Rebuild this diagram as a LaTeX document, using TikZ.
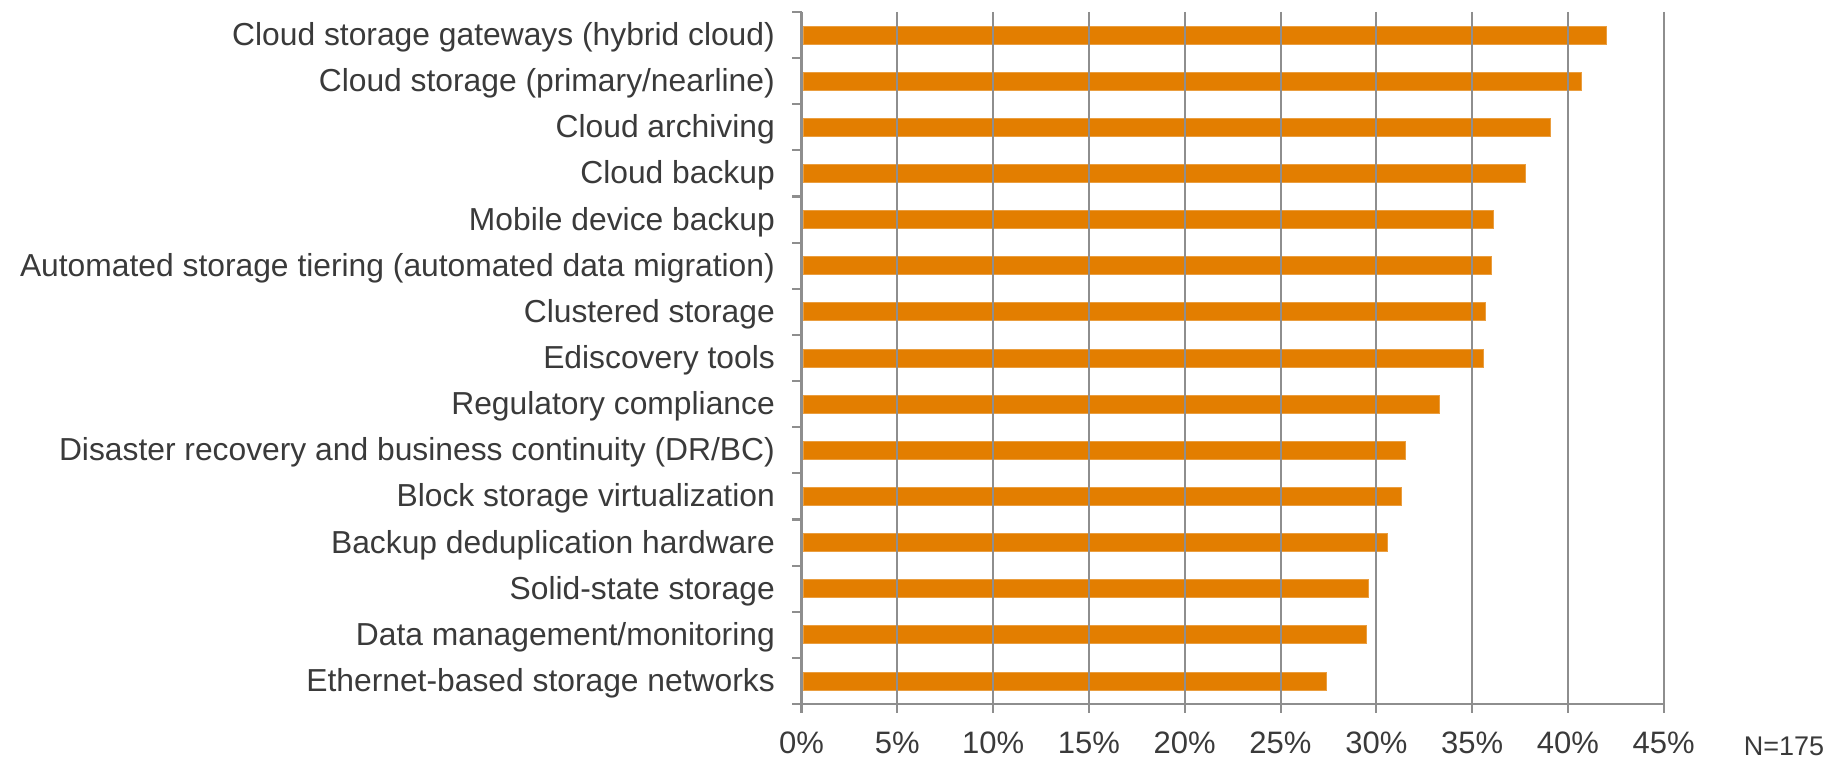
\documentclass[tikz,border=0pt]{standalone}
\usepackage{fontspec}
\setmainfont{Liberation Sans}
\definecolor{barorange}{HTML}{E37E00}
\definecolor{gridgray}{HTML}{8E8E8E}
\definecolor{labelgray}{HTML}{3A3A3A}
\begin{document}
\begin{tikzpicture}[x=1pt,y=-1pt,
  bar/.style={fill=barorange, draw=barorange!75!white, line width=0.8pt},
  gridline/.style={draw=gridgray, line width=2pt},
  axisline/.style={draw=gridgray, line width=2.2pt},
  catlabel/.style={anchor=base east, inner sep=0pt, text=labelgray,
    font=\fontsize{31.8}{36}\selectfont},
  ticklabel/.style={anchor=base, inner sep=0pt, text=labelgray,
    font=\fontsize{31}{36}\selectfont},
  notelabel/.style={anchor=base, inner sep=0pt, text=labelgray,
    font=\fontsize{27}{32}\selectfont},
]
\useasboundingbox (0,0) rectangle (1843,757);

% origin of the value axis, one percent in px, one category row in px
\def\xo{801.5}
\def\pct{19.16}
\def\row{46.133}

% bars and category labels
\foreach \v/\t [count=\i from 0] in {
  42.0/{Cloud storage gateways (hybrid cloud)},
  40.7/{Cloud storage (primary/nearline)},
  39.1/{Cloud archiving},
  37.8/{Cloud backup},
  36.1/{Mobile device backup},
  36.0/{Automated storage tiering (automated data migration)},
  35.7/{Clustered storage},
  35.6/{Ediscovery tools},
  33.3/{Regulatory compliance},
  31.5/{Disaster recovery and business continuity (DR/BC)},
  31.3/{Block storage virtualization},
  30.6/{Backup deduplication hardware},
  29.6/{Solid-state storage},
  29.5/{Data management/monitoring},
  27.4/{Ethernet-based storage networks}} {
  \pgfmathsetmacro{\yc}{12+\row*(\i+0.5)}
  \path[bar] (\xo+1.5,\yc-9) rectangle ({\xo+\pct*\v},\yc+9);
  \node[catlabel] (label\i) at (775,\yc+10.5) {\t};
}

% vertical gridlines with their tick stubs below the axis
\foreach \k in {1,...,9} {
  \draw[gridline] ({\xo+5*\pct*\k},12) -- ({\xo+5*\pct*\k},713);
}

% axes and category ticks
\draw[axisline] (\xo,12) -- (\xo,713);
\draw[axisline] (792,704) -- ({\xo+45*\pct},704);
\foreach \i in {0,...,14} {
  \draw[axisline] (792,{12+\row*\i}) -- (\xo,{12+\row*\i});
}

% value axis labels
\foreach \k in {0,...,9} {
  \pgfmathtruncatemacro{\p}{5*\k}
  \node[ticklabel] (tick\k) at ({\xo+5*\pct*\k},753) {\p\%};
}

\node[notelabel] (note) at (1784,755) {N=175};
\end{tikzpicture}
\end{document}
